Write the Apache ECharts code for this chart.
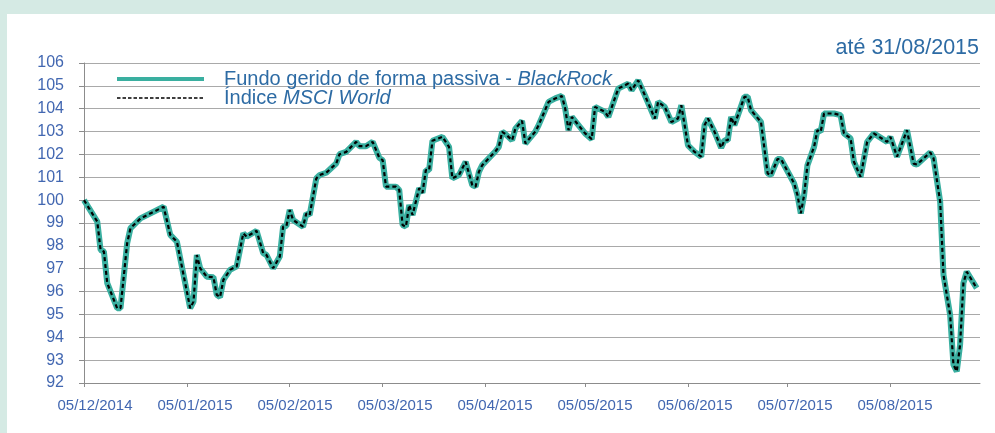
<!DOCTYPE html>
<html lang="pt">
<head>
<meta charset="UTF-8">
<title>Fundo vs MSCI World</title>
<script src="https://cdn.jsdelivr.net/npm/echarts@6/dist/echarts.min.js"></script>
<style>
    body { margin: 0; background: #d5eae4; }
    #panel { position: absolute; left: 7px; top: 14px; width: 988px; height: 419px; background: #ffffff; }
    #chart { position: absolute; left: 0; top: 0; width: 995px; height: 433px; }
</style>
</head>
<body>
<div id="panel"></div>
<div id="chart"></div>
<script>
// days counted from 05/12/2014
const days = [0, 4, 5, 6, 7, 10, 11, 13, 14, 17, 24, 26, 28, 32, 33, 34, 35, 37, 39, 40, 41, 42, 44, 46, 48, 49,
    52, 54, 55, 57, 59, 60, 61, 62, 63, 66, 67, 68, 70, 71, 73, 76, 77, 79, 82, 83, 85, 87, 89, 90, 91, 94, 95, 96,
    97, 98, 99, 101, 102, 103, 104, 105, 108, 110, 111, 113, 115, 117, 118, 119, 120, 124, 125, 126, 127, 129, 130,
    132, 133, 136, 137, 140, 142, 144, 145, 146, 147, 151, 153, 154, 157, 158, 161, 164, 165, 167, 169, 172, 173,
    175, 177, 179, 180, 182, 184, 186, 187, 188, 190, 192, 193, 194, 195, 196, 199, 200, 201, 204, 206, 207, 209,
    210, 214, 215, 216, 217, 218, 220, 221, 222, 223, 226, 228, 229, 231, 232, 234, 236, 238, 242, 243, 245, 248,
    250, 251, 255, 256, 258, 259, 261, 262, 263, 264, 265, 266, 269];

const fundo = [100.0, 99.06, 97.82, 97.75, 96.37, 95.27, 95.27, 98.11, 98.77, 99.2, 99.71, 98.48, 98.18, 95.27,
    95.56, 97.6, 97.02, 96.65, 96.63, 95.86, 95.76, 96.51, 96.95, 97.1, 98.55, 98.4, 98.66, 97.68, 97.6, 97.02,
    97.53, 98.84, 98.87, 99.57, 99.13, 98.84, 99.42, 99.35, 100.95, 101.1, 101.2, 101.6, 102.01, 102.11, 102.55,
    102.36, 102.36, 102.55, 101.85, 101.75, 100.59, 100.59, 100.44, 98.91, 98.84, 99.79, 99.35, 100.52, 100.32,
    101.31, 101.31, 102.6, 102.77, 102.33, 100.95, 101.1, 101.68, 100.66, 100.59, 101.24, 101.53, 102.14, 102.33,
    102.99, 102.89, 102.62, 103.13, 103.47, 102.48, 103.0, 103.28, 104.3, 104.45, 104.56, 104.01, 103.06, 103.64,
    102.92, 102.67, 104.08, 103.86, 103.64, 104.88, 105.1, 104.81, 105.24, 104.59, 103.57, 104.3, 104.08, 103.42,
    103.57, 104.15, 102.4, 102.11, 101.9, 103.28, 103.57, 102.99, 102.29, 102.62, 102.62, 103.64, 103.28, 104.52,
    104.52, 103.93, 103.42, 101.17, 101.1, 101.8, 101.8, 100.73, 100.22, 99.42, 100.22, 101.53, 102.33, 103.06,
    102.99, 103.79, 103.79, 103.72, 102.92, 102.7, 101.68, 101.02, 102.55, 102.92, 102.55, 102.77, 101.9, 103.06,
    101.6, 101.56, 102.09, 101.83, 99.93, 96.73, 94.98, 92.8, 92.51, 93.67, 96.37, 96.87, 96.15];

const msciWorld = [100.0, 99.06, 97.82, 97.75, 96.37, 95.27, 95.27, 98.11, 98.77, 99.2, 99.71, 98.48, 98.18, 95.27,
    95.56, 97.6, 97.02, 96.65, 96.63, 95.86, 95.76, 96.51, 96.95, 97.1, 98.55, 98.4, 98.66, 97.68, 97.6, 97.02,
    97.53, 98.84, 98.87, 99.57, 99.13, 98.84, 99.42, 99.35, 100.95, 101.1, 101.2, 101.6, 102.01, 102.11, 102.55,
    102.36, 102.36, 102.55, 101.85, 101.75, 100.59, 100.59, 100.44, 98.91, 98.84, 99.79, 99.35, 100.52, 100.32,
    101.31, 101.31, 102.6, 102.77, 102.33, 100.95, 101.1, 101.68, 100.66, 100.59, 101.24, 101.53, 102.14, 102.33,
    102.99, 102.89, 102.62, 103.13, 103.47, 102.48, 103.0, 103.28, 104.3, 104.45, 104.56, 104.01, 103.06, 103.64,
    102.92, 102.67, 104.08, 103.86, 103.64, 104.88, 105.1, 104.81, 105.24, 104.59, 103.57, 104.3, 104.08, 103.42,
    103.57, 104.15, 102.4, 102.11, 101.9, 103.28, 103.57, 102.99, 102.29, 102.62, 102.62, 103.64, 103.28, 104.52,
    104.52, 103.93, 103.42, 101.17, 101.1, 101.8, 101.8, 100.73, 100.22, 99.42, 100.22, 101.53, 102.33, 103.06,
    102.99, 103.79, 103.79, 103.72, 102.92, 102.7, 101.68, 101.02, 102.55, 102.92, 102.55, 102.77, 101.9, 103.06,
    101.6, 101.56, 102.09, 101.83, 99.93, 96.73, 94.98, 92.8, 92.51, 93.67, 96.37, 96.87, 96.15];

const tickLabels = ['05/12/2014', '05/01/2015', '05/02/2015', '05/03/2015', '05/04/2015',
    '05/05/2015', '05/06/2015', '05/07/2015', '05/08/2015'];

const fundName = 'Fundo gerido de forma passiva - BlackRock';
const indexName = 'Índice MSCI World';

function toDay(label) {
    const p = label.split('/');
    return Math.round((Date.UTC(+p[2], +p[1] - 1, +p[0]) - Date.UTC(2014, 11, 5)) / 86400000);
}
const tickDays = tickLabels.map(toDay);
// the labels sit evenly spaced along the axis, not exactly under the month ticks
const labelStep = 270 / 8.96;
const labelDays = tickLabels.map((t, i) => (i + 0.11) * labelStep);

const teal = '#3aafa0';
const blue = '#4267b1';

var chart = echarts.init(document.getElementById('chart'));
var option = {
    animation: false,
    title: {
        text: 'até 31/08/2015',
        right: 16,
        top: 37,
        padding: 0,
        textStyle: { color: '#2d6ba4', fontSize: 21.5, fontWeight: 'normal', fontFamily: 'Liberation Sans' }
    },
    legend: {
        orient: 'vertical',
        left: 115,
        top: 69,
        padding: 0,
        itemWidth: 87,
        itemHeight: 14,
        itemGap: -1,
        data: [
            { name: fundName, lineStyle: { width: 4, color: teal }, itemStyle: { opacity: 0 } },
            { name: indexName, lineStyle: { width: 1.6, color: '#000', type: [3.5, 2] }, itemStyle: { opacity: 0 } }
        ],
        formatter: function (name) {
            if (name === fundName) return '{n|Fundo gerido de forma passiva - }{i|BlackRock}';
            return '{n|Índice }{i|MSCI World}';
        },
        textStyle: {
            padding: [0, 0, 0, 15],
            rich: {
                n: { fontSize: 20, color: '#2d6ba4', fontFamily: 'Liberation Sans' },
                i: { fontSize: 20, color: '#2d6ba4', fontStyle: 'italic', fontFamily: 'Liberation Sans' }
            }
        }
    },
    grid: { left: 84, right: 15, top: 63, bottom: 50 },
    xAxis: {
        type: 'value',
        min: 0,
        max: 270,
        splitLine: { show: false },
        axisLine: { lineStyle: { color: '#8c8c8c', width: 1 } },
        axisTick: { show: true, customValues: tickDays, length: 4, lineStyle: { color: '#8c8c8c' } },
        axisLabel: {
            customValues: labelDays,
            margin: 15,
            color: blue,
            fontSize: 15,
            fontFamily: 'Liberation Sans',
            formatter: function (v) {
                return tickLabels[Math.round(v / labelStep - 0.11)];
            }
        }
    },
    yAxis: {
        type: 'value',
        min: 92,
        max: 106,
        interval: 1,
        axisLine: { show: true, lineStyle: { color: '#8c8c8c', width: 1 } },
        axisTick: { show: true, length: 5, lineStyle: { color: '#8c8c8c' } },
        splitLine: { lineStyle: { color: '#a9a9a9', width: 1 } },
        axisLabel: { margin: 20, color: blue, fontSize: 16, fontFamily: 'Liberation Sans' }
    },
    series: [
        {
            name: fundName,
            type: 'line',
            symbol: 'none',
            data: days.map((d, i) => [d, fundo[i]]),
            lineStyle: { color: teal, width: 6 },
            itemStyle: { color: teal }
        },
        {
            name: indexName,
            type: 'line',
            symbol: 'none',
            data: days.map((d, i) => [d, msciWorld[i]]),
            lineStyle: { color: '#000', width: 2.2, type: [4, 3] },
            itemStyle: { color: '#000' }
        }
    ]
};
chart.setOption(option);
</script>
</body>
</html>
